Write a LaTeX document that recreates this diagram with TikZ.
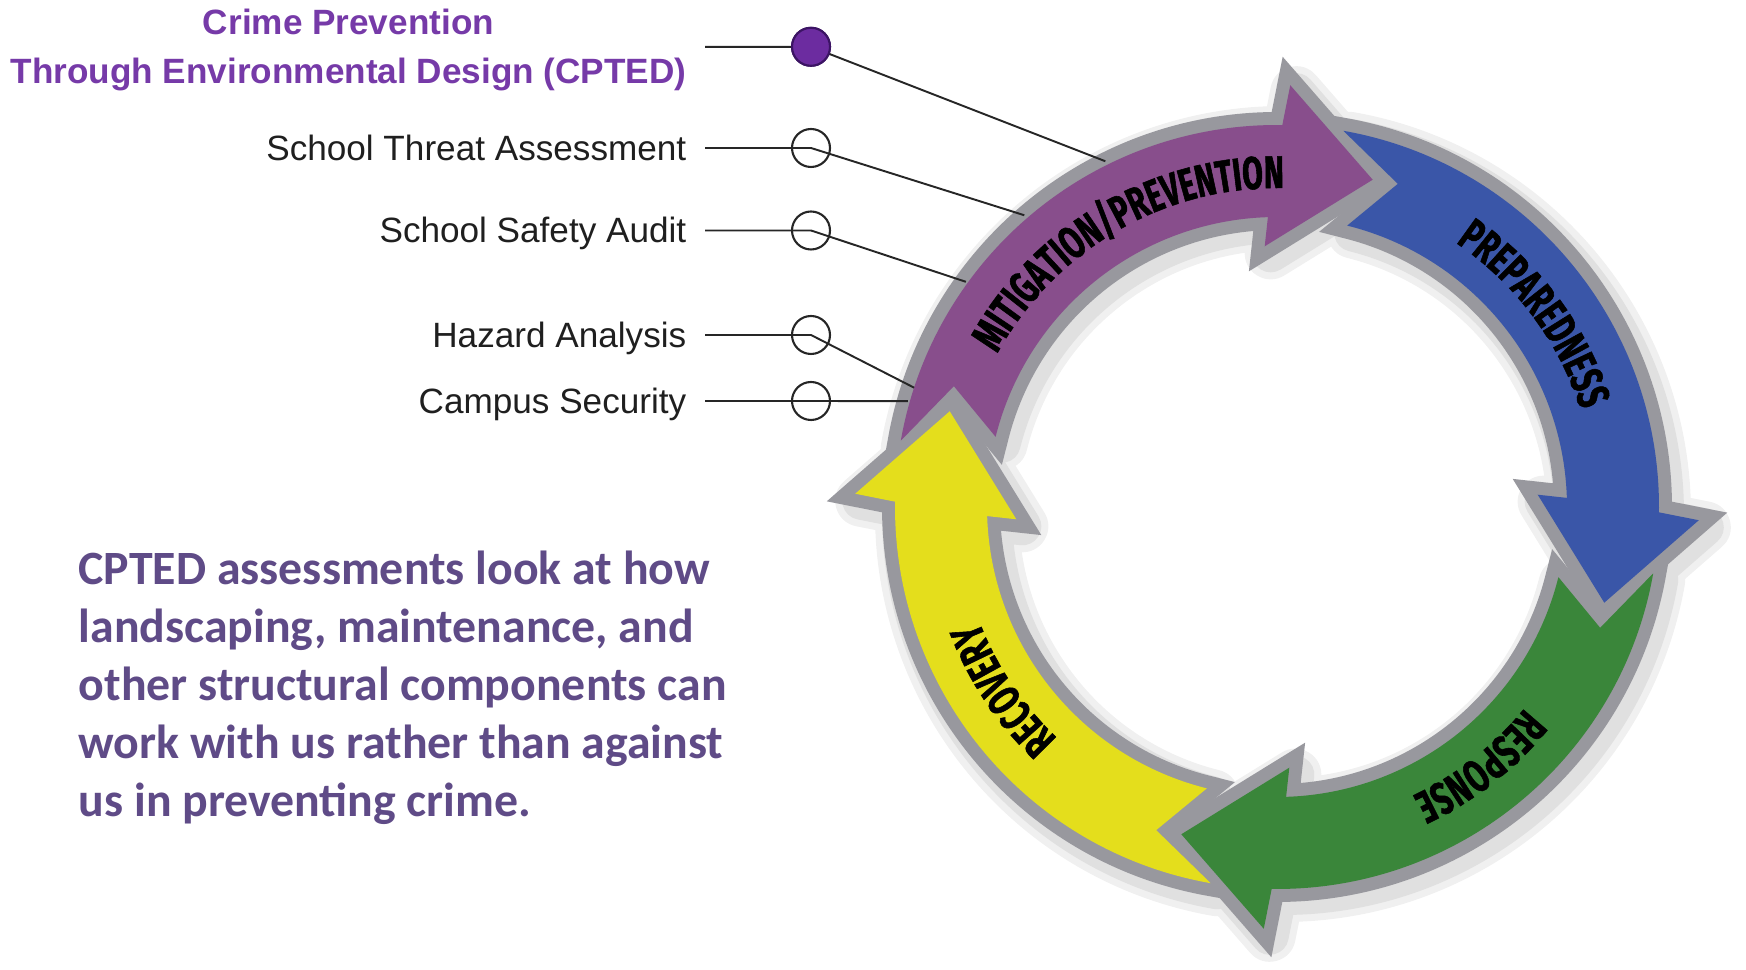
\documentclass[tikz,border=0pt]{standalone}
\usepackage{fontspec}
\setmainfont{Liberation Sans}
\newfontfamily\paraf{Carlito}
\newfontfamily\ringf{Fira Sans}[FakeStretch=0.66,FakeBold=1.2]
\usetikzlibrary{decorations.text,calc}
\definecolor{cPurple}{RGB}{136,78,140}
\definecolor{cBlue}{RGB}{58,86,168}
\definecolor{cGreen}{RGB}{58,134,58}
\definecolor{cYellow}{RGB}{228,222,28}
\definecolor{ringGray}{RGB}{152,152,158}
\definecolor{titlePurple}{RGB}{118,58,168}
\definecolor{dotPurple}{RGB}{108,44,160}
\definecolor{dotEdge}{RGB}{60,20,100}
\definecolor{paraPurple}{RGB}{95,75,135}
\newcommand{\ringlab}{\ringf\bfseries\fontsize{13pt}{15pt}\selectfont}
\tikzset{
  item/.style={anchor=base east, inner sep=0pt, font=\fontsize{10pt}{12pt}\selectfont, text=black!88},
  titleline/.style={inner sep=0pt, font=\bfseries\fontsize{10pt}{12pt}\selectfont, text=titlePurple},
  paraline/.style={anchor=base west, inner sep=0pt, font=\paraf\bfseries\fontsize{13.6pt}{16.5pt}\selectfont, text=paraPurple},
  hollow/.style={circle, draw=black!85, line width=0.6pt, minimum size=0.38cm, inner sep=0pt},
  dotfill/.style={circle, draw=dotEdge, fill=dotPurple, line width=0.6pt, minimum size=0.38cm, inner sep=0pt},
  conn/.style={draw=black!85, line width=0.55pt},
  ringborder/.style={draw=ringGray, line width=0.26cm, line join=miter},
  ringtext/.style={decorate, decoration={text along path, text align=center, text={|\ringlab|#1}}}
}
\begin{document}
\begin{tikzpicture}
\useasboundingbox (0,0) rectangle (17.46,9.70);
\coordinate (C) at (12.77,4.63);
\begin{scope}[shift={(C)}]
  % soft shadow
  \begin{scope}[shift={(0.06,-0.07)}]
    \foreach \a in {0,-90,-180,-270}{
      \draw[black!6, line width=0.52cm, line join=round]
        ({170+\a}:3.82) arc[start angle={170+\a}, end angle={89.2+\a}, radius=3.82]
        -- ({88.2+\a}:4.22) -- ({73.7+\a}:3.41) -- ({92.7+\a}:2.61) -- ({91.8+\a}:2.90)
        arc[start angle={91.8+\a}, end angle={166+\a}, radius=2.90]
        -- ({159.5+\a}:3.45) -- cycle;
    }
    \foreach \a in {0,-90,-180,-270}{
      \draw[black!12, line width=0.38cm, line join=round]
        ({170+\a}:3.82) arc[start angle={170+\a}, end angle={89.2+\a}, radius=3.82]
        -- ({88.2+\a}:4.22) -- ({73.7+\a}:3.41) -- ({92.7+\a}:2.61) -- ({91.8+\a}:2.90)
        arc[start angle={91.8+\a}, end angle={166+\a}, radius=2.90]
        -- ({159.5+\a}:3.45) -- cycle;
    }
  \end{scope}
  % gray borders
  \foreach \a in {0,-90,-180,-270}{
    \draw[ringborder]
      ({170+\a}:3.82) arc[start angle={170+\a}, end angle={89.2+\a}, radius=3.82]
      -- ({88.2+\a}:4.22) -- ({73.7+\a}:3.41) -- ({92.7+\a}:2.61) -- ({91.8+\a}:2.90)
      arc[start angle={91.8+\a}, end angle={166+\a}, radius=2.90]
      -- ({159.5+\a}:3.45) -- cycle;
  }
  % coloured arrows
  \foreach \a/\c in {0/cPurple,-90/cBlue,-180/cGreen,-270/cYellow}{
    \fill[\c]
      ({170+\a}:3.82) arc[start angle={170+\a}, end angle={89.2+\a}, radius=3.82]
      -- ({88.2+\a}:4.22) -- ({73.7+\a}:3.41) -- ({92.7+\a}:2.61) -- ({91.8+\a}:2.90)
      arc[start angle={91.8+\a}, end angle={166+\a}, radius=2.90]
      -- ({159.5+\a}:3.45) -- cycle;
  }
  % ring labels
  \path[ringtext={MITIGATION/PREVENTION}] (170:3.19) arc[start angle=170, end angle=70, radius=3.19];
  \path[ringtext={PREPAREDNESS}] (86.8:3.19) arc[start angle=86.8, end angle=-13.2, radius=3.19];
  \path[ringtext={RESPONSE}] (-2:3.19) arc[start angle=-2, end angle=-102, radius=3.19];
  \path[ringtext={RECOVERY}] (263.7:3.19) arc[start angle=263.7, end angle=163.7, radius=3.19];
  % connector ends on the ring
  \coordinate (eCpted) at (116.4:3.86);
  \coordinate (eThreat) at (130.9:3.86);
  \coordinate (eSafety) at (144.1:3.84);
  \coordinate (eHazard) at (161.8:3.82);
  \coordinate (eCampus) at (164.0:3.84);
\end{scope}

% left labels
\node[titleline, anchor=base east] (tB) at (6.87,8.865) {Through Environmental Design (CPTED)};
\node[titleline, anchor=base] (tA) at ($(tB.base)+(0,0.49)$) {Crime Prevention};
\node[item] (lThreat) at (6.87,8.095) {School Threat Assessment};
\node[item] (lSafety) at (6.87,7.27) {School Safety Audit};
\node[item] (lHazard) at (6.87,6.225) {Hazard Analysis};
\node[item] (lCampus) at (6.87,5.565) {Campus Security};

% connector starts and circles
\coordinate (sCpted) at (7.05,9.232);
\coordinate (sThreat) at (7.05,8.22);
\coordinate (sSafety) at (7.05,7.395);
\coordinate (sHazard) at (7.05,6.35);
\coordinate (sCampus) at (7.05,5.69);
\node[dotfill] (cCpted) at (8.11,9.232) {};
\node[hollow] (cThreat) at (8.11,8.22) {};
\node[hollow] (cSafety) at (8.11,7.395) {};
\node[hollow] (cHazard) at (8.11,6.35) {};
\node[hollow] (cCampus) at (8.11,5.69) {};

\draw[conn] (sCpted) -- (cCpted.center) -- (eCpted);
\draw[conn] (sThreat) -- (cThreat.center) -- (eThreat);
\draw[conn] (sSafety) -- (cSafety.center) -- (eSafety);
\draw[conn] (sHazard) -- (cHazard.center) -- (eHazard);
\draw[conn] (sCampus) -- (cCampus.center) -- (eCampus);
\node[dotfill] at (cCpted) {};

% paragraph
\node[paraline] (p1) at (0.78,3.85) {CPTED assessments look at how};
\node[paraline] (p2) at (0.78,3.27) {landscaping, maintenance, and};
\node[paraline] (p3) at (0.78,2.69) {other structural components can};
\node[paraline] (p4) at (0.78,2.11) {work with us rather than against};
\node[paraline] (p5) at (0.78,1.53) {us in preventing crime.};
\end{tikzpicture}
\end{document}
